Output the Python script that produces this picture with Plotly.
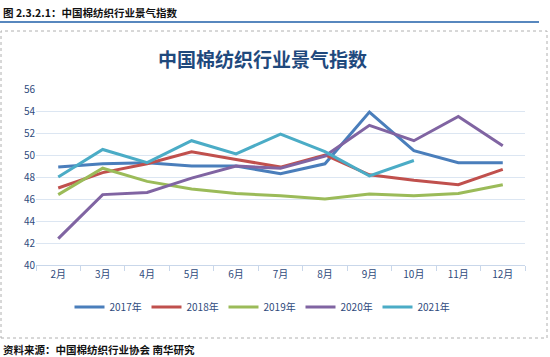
import plotly.graph_objects as go

months = ["2月", "3月", "4月", "5月", "6月", "7月", "8月", "9月", "10月", "11月", "12月"]
s2017 = [48.9, 49.2, 49.3, 49.0, 49.0, 48.3, 49.2, 53.9, 50.4, 49.3, 49.3]
s2018 = [47.0, 48.4, 49.2, 50.3, 49.6, 48.9, 50.0, 48.2, 47.7, 47.3, 48.7]
s2019 = [46.4, 48.8, 47.6, 46.9, 46.5, 46.3, 46.0, 46.45, 46.3, 46.5, 47.3]
s2020 = [42.4, 46.4, 46.6, 47.9, 49.0, 48.8, 49.9, 52.7, 51.3, 53.5, 50.85]
s2021 = [48.0, 50.5, 49.3, 51.3, 50.1, 51.9, 50.3, 48.1, 49.5, None, None]

series = [("2017年", s2017, "#4A7EBB"), ("2018年", s2018, "#C0504D"),
          ("2019年", s2019, "#9BBB59"), ("2020年", s2020, "#8064A2"),
          ("2021年", s2021, "#4BACC6")]

fig = go.Figure()
for name, vals, col in series:
    fig.add_trace(go.Scatter(x=months, y=vals, name=name, mode="lines",
                             line=dict(color=col, width=3)))

L, R, T, B = 36, 525, 89, 265
def px(x): return (x - L) / (R - L)
def py(y): return (B - y) / (B - T)

font = "Noto Sans CJK SC"
fig.update_layout(
    width=550, height=357,
    margin=dict(l=L, r=550 - R, t=T, b=357 - B, autoexpand=False),
    paper_bgcolor="white", plot_bgcolor="white",
    font=dict(family=font, color="#2F4B7C", size=10),
    showlegend=True,
    legend=dict(orientation="h", x=px(262), y=py(307), xanchor="center", yanchor="middle",
                font=dict(size=10, color="#2F4B7C"), itemwidth=30, entrywidth=32,
                entrywidthmode="pixels", tracegroupgap=0),
    xaxis=dict(showgrid=False, showline=True, linecolor="#C9D7EA", linewidth=1,
               range=[-0.5, 10.5],
               ticks="outside", tickson="boundaries", ticklen=5, tickcolor="#C9D7EA",
               tickfont=dict(size=10, color="#2F4B7C"), fixedrange=True),
    yaxis=dict(range=[40, 56], dtick=2, showgrid=True, gridcolor="#DCE6F2", gridwidth=1,
               zeroline=False, showline=False, ticks="",
               tickfont=dict(size=10, color="#2F4B7C"), fixedrange=True),
    shapes=[
        dict(type="rect", xref="paper", yref="paper", x0=px(1), x1=px(547), y0=py(338), y1=py(31),
             line=dict(color="#B0B0B0", width=1, dash="dot")),
        dict(type="line", xref="paper", yref="paper", x0=px(0), x1=px(539), y0=py(22), y1=py(22),
             line=dict(color="#1F5FA8", width=1.5)),
    ],
    annotations=[
        dict(text="中国棉纺织行业景气指数", xref="paper", yref="paper", x=px(262), y=py(58),
             xanchor="center", yanchor="middle", showarrow=False,
             font=dict(family=font, size=19, color="#1F497D", weight="bold")),
        dict(text="图 2.3.2.1：中国棉纺织行业景气指数", xref="paper", yref="paper", x=px(1), y=py(12),
             xanchor="left", yanchor="middle", showarrow=False,
             font=dict(family=font, size=10.5, color="#111111", weight="bold")),
        dict(text="资料来源：中国棉纺织行业协会 南华研究", xref="paper", yref="paper", x=px(1), y=py(349),
             xanchor="left", yanchor="middle", showarrow=False,
             font=dict(family=font, size=10.5, color="#111111", weight="bold")),
    ],
)
fig.write_html("out.html", config={"displayModeBar": False},
               post_script="document.body.style.margin='0';document.body.style.overflow='hidden';")
